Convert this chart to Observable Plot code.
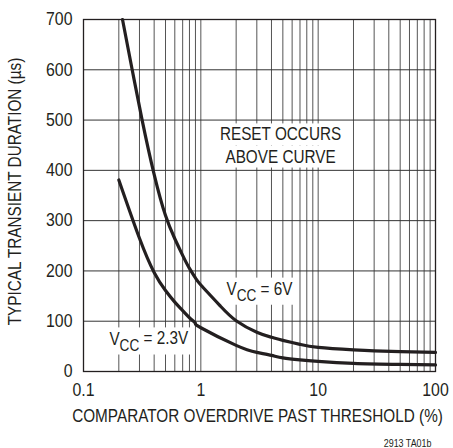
<!DOCTYPE html>
<html><head><meta charset="utf-8">
<script src="https://cdn.jsdelivr.net/npm/d3@7"></script>
<script src="https://cdn.jsdelivr.net/npm/@observablehq/plot@0.6"></script>
<style>body{margin:0;background:#fff}</style>
</head><body><div id="chart"></div>
<script>
// grid positions and ticks
const gridX = [0.1,0.2,0.3,0.4,0.5,0.6,0.7,0.8,0.9,1,2,3,4,5,6,7,8,9,10,20,30,40,50,60,70,80,90,100];
const gridY = [0,100,200,300,400,500,600,700];
const xTickValues = [0.1,1,10,100];
const xTickLabels = ["0.1","1","10","100"];

// VCC = 6V curve
const vcc6X = [0.215,0.26,0.316,0.4,0.5,0.6,0.7,0.8,0.9,1,1.47,2,3,4,5,7,10,20,30,50,100];
const vcc6Y = [700,600,500,392,310,264,231,205,186,172,130,101,78,68,62,54,48,43,41,39.5,38];
// VCC = 2.3V curve
const vcc23X = [0.2,0.3,0.4,0.5,0.6,0.7,0.8,0.9,1,2,3,4,5,7,10,20,50,100];
const vcc23Y = [381,265,197,161,138,121,107,96,87,52,38,32,27,23,20,16,14,13];

// annotations
const noteLines = ["RESET OCCURS","ABOVE CURVE"];
const noteX = [4.78,4.78];
const noteY = [471,427];
const curveLabels = ["VCC = 6V","VCC = 2.3V"];
const curveLabelX = [3.16,0.36];
const curveLabelY = [163,64];

const xTitle = "COMPARATOR OVERDRIVE PAST THRESHOLD (%)";
const yTitle = "TYPICAL TRANSIENT DURATION (µs)";
const footer = "2913 TA01b";

const ink = "#231f20";
const font = "'Liberation Sans',Arial,Helvetica,sans-serif";

const up = vcc6X.map((x,i)=>({x, y: vcc6Y[i]}));
const lo = vcc23X.map((x,i)=>({x, y: vcc23Y[i]}));
const notes = noteLines.map((t,i)=>({t, x: noteX[i], y: noteY[i]}));
const labs = curveLabels.map((t,i)=>({t, x: curveLabelX[i], y: curveLabelY[i]}));

const plot = Plot.plot({
  width: 453, height: 448,
  marginLeft: 83, marginRight: 18, marginTop: 19, marginBottom: 77,
  style: {fontFamily: font, background: "#fff", color: ink, overflow: "visible"},
  x: {type: "log", domain: [0.1, 100]},
  y: {domain: [0, 700]},
  marks: [
    Plot.ruleX(gridX, {stroke: "#555", strokeWidth: 1}),
    Plot.ruleY(gridY, {stroke: "#333", strokeWidth: 1}),
    Plot.frame({stroke: ink, strokeWidth: 1.3}),
    Plot.line(up, {x: "x", y: "y", stroke: ink, strokeWidth: 3.2, curve: "natural"}),
    Plot.line(lo, {x: "x", y: "y", stroke: ink, strokeWidth: 3.2, curve: "natural"}),
    Plot.text(notes, {x: "x", y: "y", text: "t", fontSize: 18, fill: ink}),
    Plot.text(labs, {x: "x", y: "y", text: "t", fontSize: 18, fill: ink}),
    Plot.axisY(gridY, {tickSize: 0, tickPadding: 11, fontSize: 18, label: null, fill: ink}),
    Plot.axisX(xTickValues, {tickSize: 0, tickPadding: 12, fontSize: 18, label: null, fill: ink,
      tickFormat: d => xTickLabels[xTickValues.indexOf(d)]}),
    Plot.text([xTitle], {frameAnchor: "bottom", dx: -2, dy: 45, fontSize: 18, fill: ink, lineAnchor: "middle", textAnchor: "middle"}),
    Plot.text([yTitle], {frameAnchor: "left", rotate: -90, dx: -68, dy: -4, fontSize: 18, fill: ink, lineAnchor: "middle", textAnchor: "middle"}),
    Plot.text([footer], {frameAnchor: "bottom-right", dx: -4, dy: 72, fontSize: 10.5, fill: ink, textAnchor: "end", lineAnchor: "middle"})
  ]
});

document.getElementById("chart").append(plot);

const allText = Array.from(plot.querySelectorAll("text"));

// subscripts for VCC labels
allText.filter(el => el.textContent.startsWith("VCC")).forEach(el => {
  const rest = el.textContent.slice(3);
  const t = d3.select(el);
  t.text(null);
  t.append("tspan").text("V");
  t.append("tspan").attr("dy", "0.34em").attr("font-size", "16px").text("CC");
  t.append("tspan").attr("dy", "-0.34em").text(rest);
});

// condensed look (reference uses a condensed face)
allText.forEach(el => {
  const len = el.getComputedTextLength();
  if (!len) return;
  const f = /^[0-9.]+$/.test(el.textContent) ? 0.88 : 0.85;
  el.setAttribute("textLength", (len * f).toFixed(2));
  el.setAttribute("lengthAdjust", "spacingAndGlyphs");
});

// white boxes behind annotations
allText.filter(el => noteLines.includes(el.textContent) || el.textContent.startsWith("VCC")).forEach(el => {
  const b = el.getBBox();
  const r = document.createElementNS("http://www.w3.org/2000/svg", "rect");
  r.setAttribute("x", b.x - 4);
  r.setAttribute("y", b.y - 1);
  r.setAttribute("width", b.width + 8);
  r.setAttribute("height", b.height + 2);
  r.setAttribute("fill", "#fff");
  const tr = el.getAttribute("transform");
  if (tr) r.setAttribute("transform", tr);
  el.parentNode.insertBefore(r, el);
});
</script>
</body></html>
